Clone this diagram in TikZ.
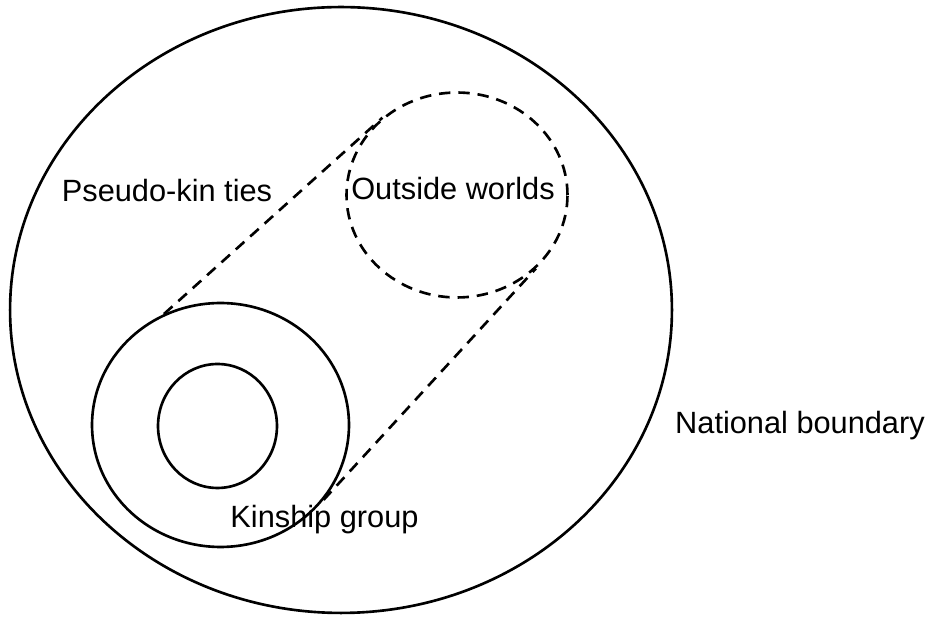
\documentclass[tikz,border=0pt]{standalone}
\usepackage{fontspec}
\setmainfont{Liberation Sans}
\usetikzlibrary{shapes.geometric, positioning, calc}

\tikzset{
    ring/.style={draw, ellipse, inner sep=0pt, line width=1.5pt},
    dashring/.style={ring, dash pattern=on 6.5pt off 4.5pt},
    link/.style={line width=1.5pt, dash pattern=on 6.5pt off 4.5pt},
    lbl/.style={anchor=base, inner sep=0pt,
                font=\fontsize{17.5}{20}\selectfont}
}

\begin{document}
\begin{tikzpicture}[x=0.02cm, y=-0.02cm]
    \useasboundingbox (0,0) rectangle (947,617);

    % NATIONAL BOUNDARY
    \node[ring, minimum width=13.24cm, minimum height=12.12cm]
        (nation) at (341,310) {};

    % OUTSIDE WORLDS
    \node[dashring, minimum width=4.42cm, minimum height=4.1cm]
        (world) at (457,195) {};

    % KINSHIP GROUP: outer and inner rings
    \node[ring, minimum width=5.14cm, minimum height=4.88cm]
        (kin) at (220.5,425) {};
    \node[ring, minimum width=2.38cm, minimum height=2.48cm]
        (core) at (217.5,426) {};

    % PSEUDO-KIN TIES
    \draw[link] (kin.117) -- (world.134);
    \draw[link] (kin.-36) -- (world.-43);

    % LABELS
    \node[lbl] (pseudo) at (167,202) {Pseudo-kin ties};
    \node[lbl] (outside) at (453,200) {Outside worlds};
    \node[lbl] (national) at (800,434) {National boundary};
    \node[lbl] (kinship) at (324.5,528) {Kinship group};

\end{tikzpicture}
\end{document}
